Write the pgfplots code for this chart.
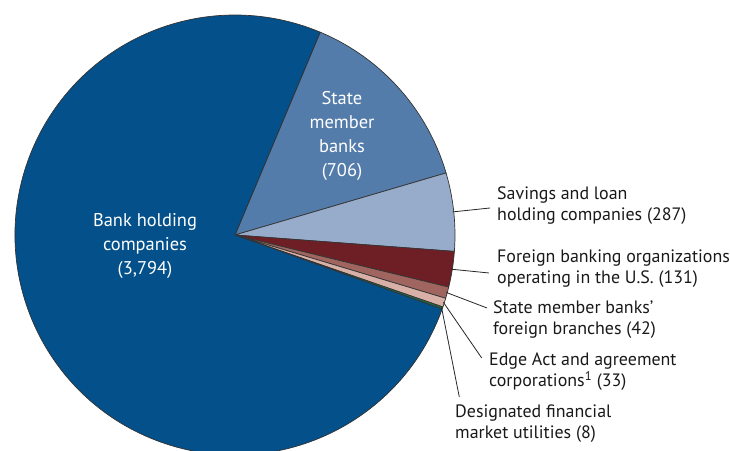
\documentclass[border=0pt]{standalone}
\usepackage{pgfplots}
\pgfplotsset{compat=1.18}
\usepackage{pgfplotstable}
\usepackage{fontspec}
\setmainfont{PT Sans}

\definecolor{bhc}{RGB}{3,80,138}
\definecolor{smb}{RGB}{84,124,170}
\definecolor{slh}{RGB}{151,171,203}
\definecolor{fbo}{RGB}{110,31,37}
\definecolor{smbf}{RGB}{160,101,95}
\definecolor{edge}{RGB}{216,176,168}
\definecolor{dfmu}{RGB}{30,107,69}

% slices in clockwise order, leader line end points (lx, ly) in axis units
\pgfplotstableread{
value color lx ly
706 smb 0 0
287 slh 490 243
131 fbo 489 178
42 smbf 487 143
33 edge 481.7 93
8 dfmu 459.3 54
3794 bhc 0 0
}\piedata

\begin{document}
\begin{tikzpicture}
\pgfplotstablegetrowsof{\piedata}
\pgfmathtruncatemacro\lastrow{\pgfplotsretval-1}
\def\total{0}
\pgfplotsforeachungrouped \i in {0,...,\lastrow}{%
  \pgfplotstablegetelem{\i}{value}\of\piedata
  \pgfmathsetmacro\total{\total+\pgfplotsretval}%
}
\begin{axis}[
    x=1bp, y=1bp,
    xmin=0, xmax=730, ymin=0, ymax=451,
    hide axis, clip=true,
    scale only axis,
]
\def\cur{67.2}
\pgfplotsforeachungrouped \i in {0,...,\lastrow}{%
  \pgfplotstablegetelem{\i}{value}\of\piedata \let\val\pgfplotsretval
  \pgfplotstablegetelem{\i}{color}\of\piedata \let\slicecol\pgfplotsretval
  \pgfmathsetmacro\frac{\val/\total}%
  \pgfmathsetmacro\nxt{\cur-360*\frac}%
  \pgfmathsetmacro\midang{(\cur+\nxt)/2}%
  \expandafter\xdef\csname midang\i\endcsname{\midang}%
  \edef\temp{\noexpand\fill[\slicecol, draw=black!80, line width=0.7bp, line join=round]
    (axis cs:235,216) -- ++(\cur:220bp) arc[start angle=\cur, end angle=\nxt, radius=220bp] -- cycle;}%
  \temp
  \let\cur\nxt
}
\pgfplotsforeachungrouped \i in {1,...,5}{%
  \pgfplotstablegetelem{\i}{lx}\of\piedata \let\lx\pgfplotsretval
  \pgfplotstablegetelem{\i}{ly}\of\piedata \let\ly\pgfplotsretval
  \edef\temp{\noexpand\draw[black!85, line width=0.8bp]
    (axis cs:235,216) ++(\csname midang\i\endcsname:219bp) -- (axis cs:\lx,\ly);}%
  \temp
}
\node[white, align=center, font=\fontsize{18.5}{24}\selectfont] at (axis cs:145,205)
  {Bank holding\\companies\\(3,794)};
\node[white, align=center, font=\fontsize{18.5}{24}\selectfont] at (axis cs:342,315)
  {State\\member\\banks\\(706)};
\tikzset{outlbl/.style={anchor=west, align=left, inner sep=0pt, text=black!90,
  font=\fontsize{18}{21}\selectfont}}
\node[outlbl] at (axis cs:497,245) {Savings and loan\\holding companies (287)};
\node[outlbl] at (axis cs:497,182) {Foreign banking organizations\\operating in the U.S. (131)};
\node[outlbl] at (axis cs:493,131) {State member banks’\\foreign branches (42)};
\node[outlbl] at (axis cs:489,79) {Edge Act and agreement\\corporations\textsuperscript{1} (33)};
\node[outlbl] at (axis cs:455,27) {Designated financial\\market utilities (8)};
\end{axis}
\pgfresetboundingbox
\useasboundingbox (current axis.south west) rectangle (current axis.north east);
\end{tikzpicture}
\end{document}
